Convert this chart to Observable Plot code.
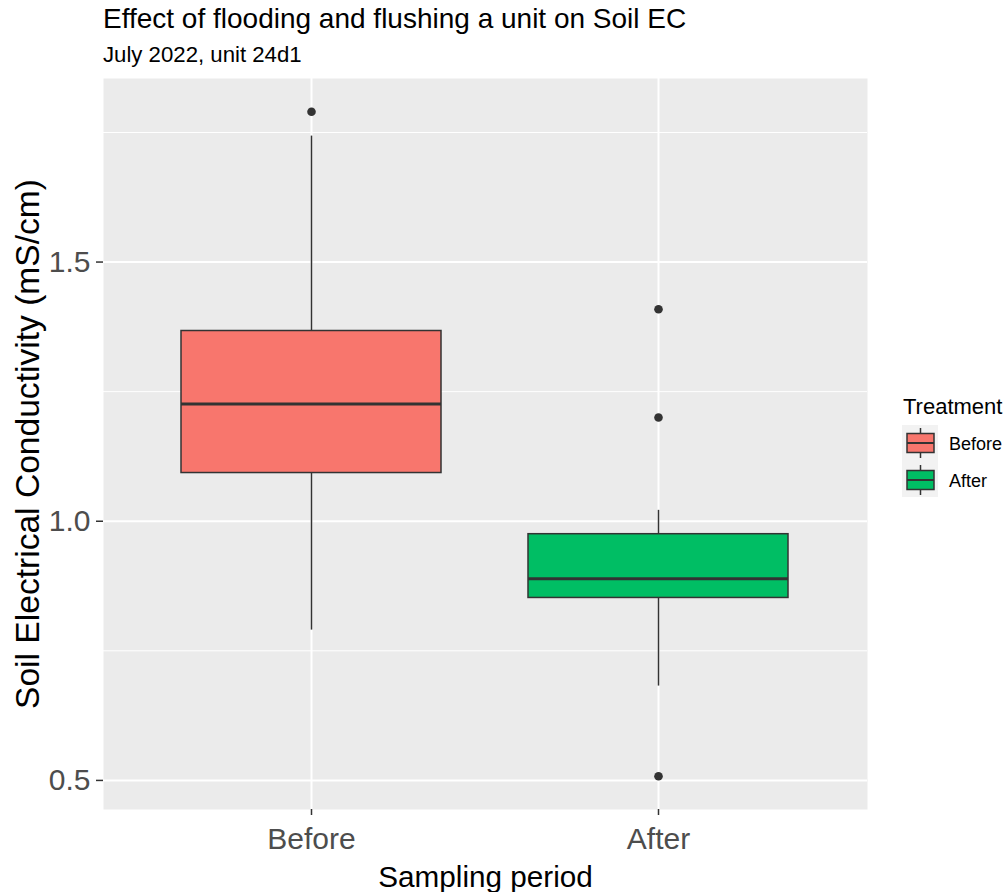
<!DOCTYPE html>
<html><head><meta charset="utf-8">
<script src="https://cdn.jsdelivr.net/npm/d3@7"></script>
<script src="https://cdn.jsdelivr.net/npm/@observablehq/plot@0.6"></script>
<style>
body{margin:0;background:#fff;font-family:"Liberation Sans",Arial,sans-serif;}
#wrap{position:relative;width:1008px;height:892px;overflow:hidden;}
#header{position:relative;height:72px;}
#title{position:absolute;left:103px;top:5px;font-size:28px;line-height:28px;color:#000;white-space:nowrap;}
#subtitle{position:absolute;left:103px;top:44px;font-size:22.2px;line-height:22px;color:#000;white-space:nowrap;}
#chart svg{display:block;}
#legend{position:absolute;left:900px;top:380px;}
</style></head><body>
<div id="wrap">
<div id="header"><div id="title">Effect of flooding and flushing a unit on Soil EC</div><div id="subtitle">July 2022, unit 24d1</div></div>
<div id="chart"></div>
<div id="legend"></div>
</div>
<script>
// ---- data ----
const periods = ["Before", "After"];
const lowerWhisker = [0.790, 0.682];
const q1 = [1.093, 0.852];
const median = [1.226, 0.889];
const q3 = [1.367, 0.975];
const upperWhisker = [1.743, 1.021];
const outlierPeriod = ["Before", "After", "After", "After"];
const outlierValue = [1.790, 1.409, 1.200, 0.508];
const fills = ["#F8766D", "#00BE64"];
const yTickValues = [0.5, 1.0, 1.5];
const yTickLabels = ["0.5", "1.0", "1.5"];
const yMinorValues = [0.75, 1.25, 1.75];
const xTitle = "Sampling period";
const yTitle = "Soil Electrical Conductivity (mS/cm)";
const legendTitle = "Treatment";

const rows = periods.map((p, i) => ({period: p, lo: lowerWhisker[i], q1: q1[i], med: median[i], q3: q3[i], hi: upperWhisker[i]}));
const outliers = outlierPeriod.map((p, i) => ({period: p, value: outlierValue[i]}));
const all = [...lowerWhisker, ...upperWhisker, ...outlierValue];
const lo = d3.min(all), hi = d3.max(all), pad = (hi - lo) * 0.05;
const font = "'Liberation Sans', Arial, sans-serif";

const chart = Plot.plot({
  width: 1008, height: 820,
  marginTop: 6, marginBottom: 83, marginLeft: 103, marginRight: 141,
  style: {fontFamily: font, background: "transparent", overflow: "visible"},
  x: {domain: periods, paddingInner: 0.25, paddingOuter: 0.225, axis: null},
  y: {domain: [lo - pad, hi + pad], axis: null},
  color: {domain: periods, range: fills},
  marks: [
    Plot.frame({fill: "#EBEBEB", stroke: null}),
    Plot.gridY(yMinorValues, {stroke: "#fff", strokeOpacity: 1, strokeWidth: 1}),
    Plot.gridY(yTickValues, {stroke: "#fff", strokeOpacity: 1, strokeWidth: 2}),
    Plot.gridX({stroke: "#fff", strokeOpacity: 1, strokeWidth: 2}),
    Plot.ruleX(rows, {x: "period", y1: "lo", y2: "q1", stroke: "#333", strokeWidth: 1.5}),
    Plot.ruleX(rows, {x: "period", y1: "q3", y2: "hi", stroke: "#333", strokeWidth: 1.5}),
    Plot.barY(rows, {x: "period", y1: "q1", y2: "q3", fill: "period", stroke: "#333", strokeWidth: 1.5}),
    Plot.tickY(rows, {x: "period", y: "med", stroke: "#333", strokeWidth: 3}),
    Plot.dot(outliers, {x: "period", y: "value", r: 4.3, fill: "#333", stroke: null}),
    Plot.axisY(yTickValues, {tickSize: 7, tickPadding: 6, fontSize: 30, fill: "#4D4D4D", stroke: "#333", strokeWidth: 1.5, label: null,
      tickFormat: d => yTickLabels[yTickValues.indexOf(d)]}),
    Plot.axisX({tickSize: 6, tickPadding: 12, fontSize: 30, fill: "#4D4D4D", stroke: "#333", strokeWidth: 1.5, label: null}),
    Plot.text([yTitle], {frameAnchor: "left", dx: -88, rotate: -90, textAnchor: "middle", lineAnchor: "top", fontSize: 33.6, fill: "#000"}),
    Plot.text([xTitle], {frameAnchor: "bottom", dy: 77, textAnchor: "middle", lineAnchor: "bottom", fontSize: 29.7, fill: "#000"})
  ]
});
document.getElementById("chart").appendChild(chart);

// ---- legend ----
const lg = d3.select("#legend").append("svg")
  .attr("width", 108).attr("height", 125)
  .style("font-family", font).style("display", "block");
lg.append("text").attr("x", 3).attr("y", 34).attr("font-size", 22).attr("fill", "#000").text(legendTitle);
lg.append("rect").attr("x", 2).attr("y", 45).attr("width", 36).attr("height", 72).attr("fill", "#F2F2F2");
periods.forEach((p, i) => {
  const cy = 63 + 37 * i;
  const g = lg.append("g");
  g.append("line").attr("x1", 20.5).attr("x2", 20.5).attr("y1", cy - 15).attr("y2", cy + 15).attr("stroke", "#333").attr("stroke-width", 1.5);
  g.append("rect").attr("x", 7).attr("y", cy - 9.5).attr("width", 27).attr("height", 19)
    .attr("fill", fills[i]).attr("stroke", "#333").attr("stroke-width", 1.5);
  g.append("line").attr("x1", 7).attr("x2", 34).attr("y1", cy).attr("y2", cy).attr("stroke", "#333").attr("stroke-width", 2);
  g.append("text").attr("x", 49).attr("y", cy + 6.5).attr("font-size", 18).attr("fill", "#000").text(p);
});
</script>
</body></html>
